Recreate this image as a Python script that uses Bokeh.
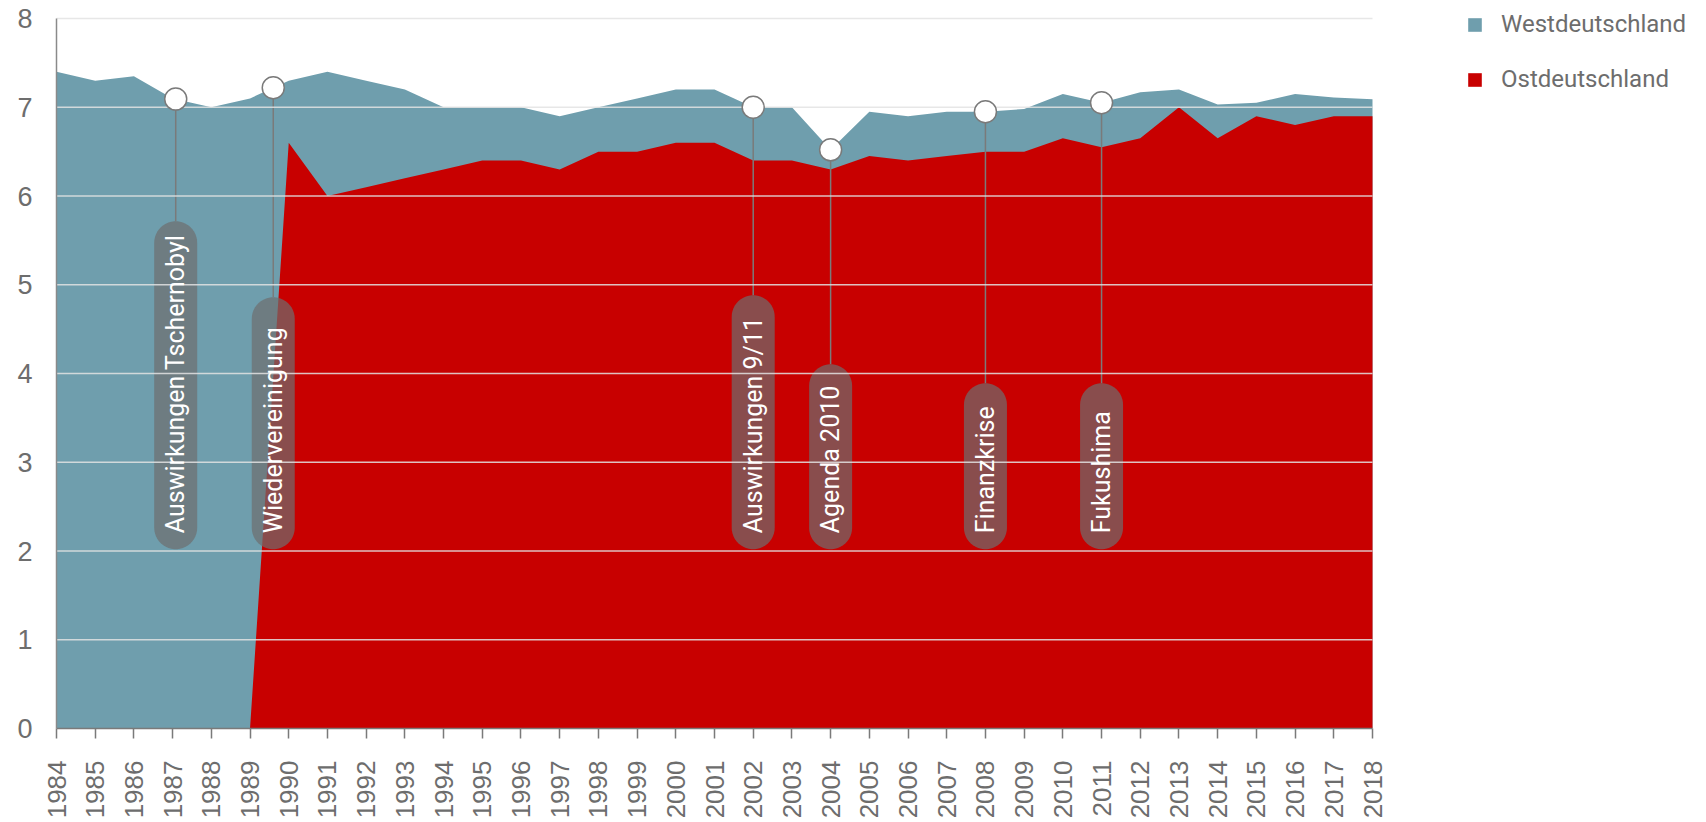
import math
import numpy as np
from bokeh.plotting import figure
from bokeh.models import Legend, LegendItem, FixedTicker, Range1d
from bokeh.core.properties import value
from bokeh.embed import file_html
from bokeh.resources import INLINE

# ---------------- data ----------------
years = list(range(1984, 2019))
west = [7.4, 7.3, 7.35, 7.1, 7.0, 7.1, 7.3, 7.4, 7.3, 7.2, 7.0, 7.0, 7.0, 6.9, 7.0,
        7.1, 7.2, 7.2, 7.0, 7.0, 6.52, 6.95, 6.9, 6.95, 6.95, 6.98, 7.15, 7.05, 7.17,
        7.2, 7.03, 7.05, 7.15, 7.11, 7.09]
east = [None, None, None, None, None, 0.0, 6.6, 6.0, 6.1, 6.2, 6.3, 6.4, 6.4, 6.3, 6.5,
        6.5, 6.6, 6.6, 6.4, 6.4, 6.3, 6.45, 6.4, 6.45, 6.5, 6.5, 6.65, 6.55, 6.65,
        7.0, 6.65, 6.9, 6.8, 6.9, 6.9]
series_names = ["Westdeutschland", "Ostdeutschland"]
event_labels = ["Auswirkungen Tschernobyl", "Wiedervereinigung", "Auswirkungen 9/11",
                "Agenda 2010", "Finanzkrise", "Fukushima"]
event_years = [1987.08, 1989.6, 2002, 2004, 2008, 2011]
y_ticks = [0, 1, 2, 3, 4, 5, 6, 7, 8]

# ---------------- layout / style ----------------
WEST_C = "#6f9ead"
EAST_C = "#c80000"
TXT_C = "#6d6d6d"
AX_C = "#7a7a7a"
FONT = "Liberation Sans"
COND = "Roboto"

PX_PER_UNIT = 88.75
FRAME_W, FRAME_H = 1642, 719
PX_PER_YEAR = 1316 / 34.0
X0 = 1984
X1 = X0 + FRAME_W / PX_PER_YEAR
Y1 = FRAME_H / PX_PER_UNIT

pill_bottom = 2.02            # data units
pill_len_px = [328, 252, 254, 185, 166, 166]
pill_w_px = 43
text_pad_px = 16

p = figure(frame_width=FRAME_W, frame_height=FRAME_H, min_border_left=56,
           min_border_right=0, min_border_top=9, min_border_bottom=2,
           x_range=Range1d(X0, X1), y_range=Range1d(0, Y1),
           output_backend="svg", toolbar_location=None)
p.outline_line_color = None
p.xgrid.visible = False
p.ygrid.visible = False

# areas
west_r = p.varea(x=years, y1=0, y2=west, fill_color=WEST_C)
ex = [y for y, v in zip(years, east) if v is not None]
ev = [v for v in east if v is not None]
east_r = p.varea(x=ex, y1=0, y2=ev, fill_color=EAST_C)

# stems
mk_y = list(np.interp(event_years, years, west))
stem_top = [pill_bottom + L / PX_PER_UNIT for L in pill_len_px]
p.segment(x0=event_years, x1=event_years, y0=mk_y, y1=stem_top,
          line_color=AX_C, line_width=1.5)

# pills
xs, ys = [], []
r = pill_w_px / 2.0
for cx, L in zip(event_years, pill_len_px):
    pts_x, pts_y = [], []
    cyt = L - r
    for a in np.linspace(0, math.pi, 24):
        pts_x.append(r * math.cos(a)); pts_y.append(cyt + r * math.sin(a))
    cyb = r
    for a in np.linspace(math.pi, 2 * math.pi, 24):
        pts_x.append(r * math.cos(a)); pts_y.append(cyb + r * math.sin(a))
    xs.append([cx + px / PX_PER_YEAR for px in pts_x])
    ys.append([pill_bottom + py / PX_PER_UNIT for py in pts_y])
p.patches(xs=xs, ys=ys, fill_color="#6d6d6d", fill_alpha=0.7, line_color=None)

# gridlines (over areas)
gl = y_ticks[1:]
p.segment(x0=[years[0]] * len(gl), x1=[years[-1]] * len(gl), y0=gl, y1=gl,
          line_color="#e3e3e3", line_alpha=0.85, line_width=1.5)

# labels in pills
p.text(x=event_years, y=[pill_bottom + text_pad_px / PX_PER_UNIT] * len(event_years),
       text=event_labels, angle=math.pi / 2, text_align="left", text_baseline="middle",
       text_color="white", text_font=value(COND), text_font_size="25px")

# markers
p.scatter(x=event_years, y=mk_y, size=22, fill_color="white", line_color=AX_C,
          line_width=1.5)

# axes
p.xaxis.ticker = FixedTicker(ticks=years)
p.xaxis.bounds = (years[0], years[-1])
p.xaxis.major_label_orientation = math.pi / 2
p.xaxis.major_label_text_font = FONT
p.xaxis.major_label_text_font_size = "26px"
p.xaxis.major_label_text_color = TXT_C
p.xaxis.major_label_standoff = 22
p.xaxis.major_tick_out = 10
p.xaxis.major_tick_in = 0
p.xaxis.minor_tick_line_color = None
p.xaxis.major_tick_line_color = AX_C
p.xaxis.major_tick_line_width = 1.5
p.xaxis.axis_line_color = AX_C
p.xaxis.axis_line_width = 1.5

p.yaxis.ticker = FixedTicker(ticks=y_ticks)
p.yaxis.bounds = (0, 8)
p.yaxis.major_label_text_font = FONT
p.yaxis.major_label_text_font_size = "27px"
p.yaxis.major_label_text_color = TXT_C
p.yaxis.major_label_standoff = 24
p.yaxis.major_tick_out = 0
p.yaxis.major_tick_in = 0
p.yaxis.minor_tick_line_color = None
p.yaxis.axis_line_color = "#8a8a8a"
p.yaxis.axis_line_width = 1.5

# legend
legend = Legend(items=[LegendItem(label=series_names[0], renderers=[west_r]),
                       LegendItem(label=series_names[1], renderers=[east_r])],
                location=(1410, FRAME_H - 84), glyph_width=17, glyph_height=17,
                label_standoff=18, spacing=27, padding=0, margin=0,
                border_line_color=None, background_fill_alpha=0,
                label_text_font=COND, label_text_font_size="24px",
                label_text_color=TXT_C)
p.add_layout(legend)

open("out.html", "w").write(file_html(p, INLINE))
